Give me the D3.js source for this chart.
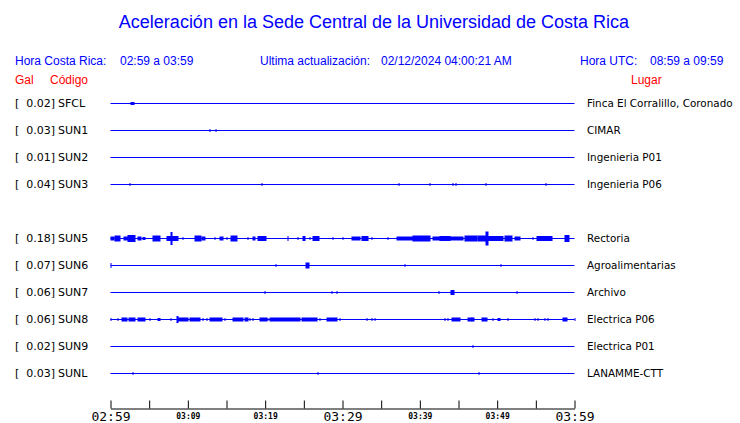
<!DOCTYPE html>
<html><head><meta charset="utf-8">
<script src="https://cdn.jsdelivr.net/npm/d3@7"></script>
<style>body{margin:0;background:#fff}svg{display:block}</style>
</head><body>
<svg id="c" width="740" height="423"></svg>
<script>
// ---- data ----
const stations = ["SFCL","SUN1","SUN2","SUN3","SUN5","SUN6","SUN7","SUN8","SUN9","SUNL"];
const peakGal = [0.02,0.03,0.01,0.04,0.18,0.07,0.06,0.06,0.02,0.03];
const places = ["Finca El Corralillo, Coronado","CIMAR","Ingenieria P01","Ingenieria P06","Rectoria","Agroalimentarias","Archivo","Electrica P06","Electrica P01","LANAMME-CTT"];
const rowOrder = ["SFCL","SUN1","SUN2","SUN3","","SUN5","SUN6","SUN7","SUN8","SUN9","SUNL"];
const tickMinutes = [0,5,10,15,20,25,30,35,40,45,50,55,60];
const tickLabels = ["02:59","","03:09","","03:19","","03:29","","03:39","","03:49","","03:59"];
const majorLabels = ["02:59","03:29","03:59"];
// bursts: [start minute, end minute, relative amplitude]
const burstsSFCL = [[2.65,3.04,1.5]];
const burstsSUN1 = [[12.87,12.87,1.5],[13.64,13.64,1.5]];
const burstsSUN2 = [];
const burstsSUN3 = [[2.52,2.52,1.5],[19.59,19.59,1.5],[37.3,37.3,1.5],[41.3,41.3,1.5],[44.3,44.3,1.5],[44.7,44.7,1.5],[48.6,48.6,1.5],[56.3,56.3,1.5]];
const burstsSUN5 = [[0,0.45,2],[0.58,1.23,3],[1.75,2.26,2],[2.26,3.17,3.5],[3.56,3.94,2],[4.2,4.46,1.5],[5.5,6.4,3],[7.3,8.7,2.5],[7.82,7.95,6.5],[9.4,9.4,1.5],[10.9,11.7,3],[11.83,12.2,2],[13.5,13.5,1.5],[14.16,14.55,2],[15.07,15.07,1.5],[15.6,16.36,3],[17.78,17.78,1.5],[18.4,18.7,2],[19.07,20.1,2.5],[22.96,22.96,2.5],[24.25,24.25,1.5],[24.9,25.15,2.5],[25.8,25.8,1.5],[26.2,26.96,2.5],[28.77,28.77,1.5],[30.07,30.07,1.5],[31.2,32.25,2],[32.5,33.3,2.5],[33.8,33.8,1.5],[35.9,35.9,1.5],[37.05,39.1,2],[39.1,41.3,3],[41.7,42.6,2],[42.6,43.9,2.5],[43.9,45.6,2],[45.8,47.4,3],[47.5,48.7,3],[48.6,48.85,7],[48.7,50.75,2.5],[51,51.9,3],[52.3,52.96,2],[54.6,54.6,1.5],[55.2,57.2,2.5],[58.8,59.3,3.5]];
const burstsSUN6 = [[0,0,2.5],[21.4,21.4,1.5],[25.28,25.67,3],[38.08,38.08,1.5],[50.5,50.5,1.5]];
const burstsSUN7 = [[19.98,19.98,1.5],[28.64,28.64,1.5],[29.29,29.29,1.5],[42.48,42.48,1.5],[44.04,44.4,2.5],[52.56,52.56,1.5]];
const burstsSUN8 = [[0,0,1.5],[0.97,0.97,1.5],[1.49,2.13,2],[2.39,3.17,2],[3.56,4.46,2],[5.1,5.1,1.5],[6.14,6.4,1.5],[7.82,7.82,1.5],[8.6,8.73,3.5],[8.73,10.0,2],[10.28,11.57,2],[11.96,11.96,1.5],[12.48,12.48,1.5],[12.87,14.42,2],[14.8,14.8,1.5],[15.84,17.13,2],[17.4,17.78,2],[18.04,18.04,1.5],[18.4,18.4,1.5],[19.33,20.24,2],[20.37,20.37,1.5],[20.63,24.5,2],[24.76,26.7,2],[27.1,27.1,1.5],[28.0,29.3,2],[29.67,29.67,1.5],[33.17,33.17,1.5],[33.8,33.8,1.5],[34.2,34.2,1.5],[43.25,43.25,1.5],[43.64,43.64,1.5],[44.16,45.2,2],[46.2,46.7,2],[46.8,47.1,2],[47.98,48.66,2],[49.45,49.45,1.5],[50.1,50.36,1.5],[51.4,51.4,1.5],[54.9,54.9,1.5],[55.3,55.3,1.5],[56.2,56.2,1.5],[56.6,56.6,1.5],[58.5,59.0,2],[60,60,1.5]];
const burstsSUN9 = [[46.88,46.88,1.5]];
const burstsSUNL = [[2.91,2.91,1.5],[26.83,26.83,1.5],[47.65,47.65,1.5]];
const bursts = [burstsSFCL,burstsSUN1,burstsSUN2,burstsSUN3,burstsSUN5,burstsSUN6,burstsSUN7,burstsSUN8,burstsSUN9,burstsSUNL];

// ---- drawing ----
const BLUE = "#0000ff", RED = "#ff0000";
const svg = d3.select("#c");
const x = d3.scaleLinear().domain([0,60]).range([110.5,574.5]);
const y = d3.scalePoint().domain(rowOrder).range([103,373]);
const amp = d3.scaleLinear().domain([0,10]).range([0,10]);

svg.append("text").attr("x",374).attr("y",28).attr("text-anchor","middle")
  .attr("font-family","Liberation Sans, Arial, sans-serif").attr("font-size",18).attr("fill",BLUE)
  .text("Aceleración en la Sede Central de la Universidad de Costa Rica");

const hdr = (tx, xx, yy, col, anchor) => svg.append("text").attr("x",xx).attr("y",yy)
  .attr("font-family","Liberation Sans, Arial, sans-serif").attr("font-size",12)
  .attr("fill",col).attr("text-anchor",anchor||"start").text(tx);
hdr("Hora Costa Rica:",15,65,BLUE);
hdr("02:59 a 03:59",120,65,BLUE);
hdr("Ultima actualización:",260,65,BLUE);
hdr("02/12/2024 04:00:21 AM",381,65,BLUE);
hdr("Hora UTC:",580,65,BLUE);
hdr("08:59 a 09:59",650,65,BLUE);
hdr("Gal",15,84,RED);
hdr("Código",50,84,RED);
hdr("Lugar",631,84,RED);

const rows = svg.append("g").selectAll("g").data(stations).join("g")
  .attr("transform", d => `translate(0,${y(d)+0.5})`);

rows.append("line").attr("x1",x(0)).attr("x2",x(60)).attr("y1",0).attr("y2",0)
  .attr("stroke",BLUE).attr("stroke-width",1);

rows.each(function(d,i){
  d3.select(this).selectAll("rect").data(bursts[i]).join("rect")
    .attr("x", b => Math.round(x(b[0])) - 0.5)
    .attr("width", b => Math.max(1, Math.round(x(b[1]) - x(b[0])) + 1))
    .attr("y", b => -amp(b[2]))
    .attr("height", b => 2*amp(b[2]))
    .attr("fill", BLUE);
});

const lab = (g, fs) => g.attr("font-family","DejaVu Sans, sans-serif").attr("font-size",fs||11).attr("fill","#000").attr("dy","0.35em");
rows.append("text").attr("x",15).attr("y",0).call(lab).text("[");
rows.append("text").attr("x",55).attr("y",0).attr("text-anchor","end").call(lab).text((d,i)=>peakGal[i].toFixed(2)+"]");
rows.append("text").attr("x",58).attr("y",0).call(lab).text(d=>d);
rows.append("text").attr("x",587).attr("y",0).call(g=>lab(g,10.4)).text((d,i)=>places[i]);

const axis = d3.axisBottom(x).tickValues(tickMinutes).tickSize(-8).tickSizeOuter(0).tickPadding(3)
  .tickFormat((d,i)=>tickLabels[i]);
const ag = svg.append("g").attr("transform","translate(0,408.5)").call(axis);
ag.select(".domain").attr("stroke","#000");
ag.selectAll(".tick line").attr("stroke","#000");
ag.selectAll(".tick text").attr("fill","#000").attr("font-family","DejaVu Sans Mono, monospace")
  .attr("font-size",(d,i)=> majorLabels.includes(tickLabels[i]) ? 13 : 8)
  .attr("font-weight",(d,i)=> majorLabels.includes(tickLabels[i]) ? "normal" : "bold")
  .attr("dy",(d,i)=> majorLabels.includes(tickLabels[i]) ? "0.71em" : "0.95em");
</script>
</body></html>
